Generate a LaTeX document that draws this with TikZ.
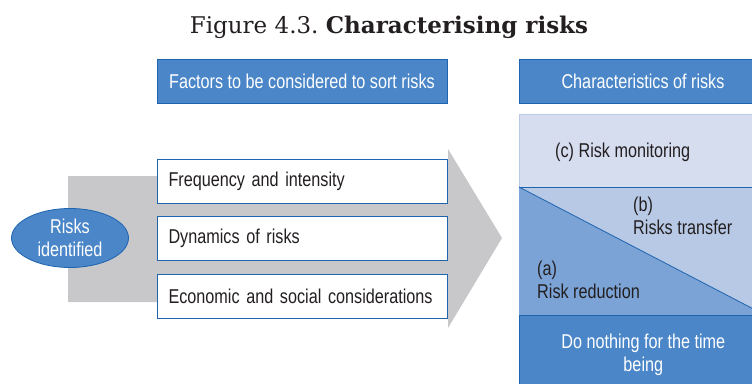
\documentclass[tikz,border=0pt]{standalone}
\usepackage{fontspec}
\setmainfont{Liberation Sans}[FakeStretch=0.81]
\newfontfamily\titlefont{DejaVu Serif}
\usetikzlibrary{shapes.geometric}

\definecolor{hdrblue}{RGB}{74,134,200}
\definecolor{edgeblue}{RGB}{30,100,175}
\definecolor{arrowgray}{RGB}{200,200,202}
\definecolor{monfill}{RGB}{213,221,239}
\definecolor{transfill}{RGB}{184,201,230}
\definecolor{redfill}{RGB}{123,163,213}
\definecolor{textgray}{RGB}{35,31,32}

\tikzset{
  hdrbox/.style={draw=edgeblue, line width=0.8pt, fill=hdrblue, text=white, minimum height=44, inner sep=0pt},
  factorbox/.style={draw=edgeblue, line width=0.8pt, fill=white, text=textgray, minimum width=290, minimum height=44, text width=268, inner sep=0pt, align=left},
  colbox/.style={draw=edgeblue, line width=0.6pt, minimum width=248, inner sep=0pt, anchor=north west},
  lbl/.style={text=textgray, anchor=west, inner sep=0pt, align=left}
}

\begin{document}
\begin{tikzpicture}[x=1pt, y=-1pt, font=\fontsize{20}{23}\selectfont]
  \useasboundingbox (0,0) rectangle (752,383);
  \node[text=textgray] (title) at (389,27) {\titlefont\fontsize{23}{28}\selectfont Figure 4.3.\ \bfseries Characterising risks};
  % headers
  \node[hdrbox, minimum width=290] (factors) at (302,81) {Factors to be considered to sort risks};
  \node[hdrbox, minimum width=248] (traits) at (643,81) {Characteristics of risks};
  % big gray arrow
  \fill[arrowgray] (68,176) -- (448,176) -- (448,149) -- (502,238) -- (448,328) -- (448,302) -- (68,302) -- cycle;
  \def \Factors{ 1/181/Frequency and intensity, 2/238.5/Dynamics of risks, 3/296.5/Economic and social considerations}
  \foreach \id / \y / \t in \Factors{
    \node[factorbox] (f\id) at (302.5,\y) {\t};
  }
  \node[draw=edgeblue, line width=0.8pt, fill=hdrblue, ellipse, minimum width=117, minimum height=59, inner sep=0pt, text=white, align=center, font=\fontsize{20}{23}\selectfont] (risks) at (70,238) {Risks\\identified};
  % right column
  \node[colbox, draw=transfill, fill=monfill, minimum height=73] (monitor) at (519,114) {};
  \node[colbox, fill=transfill, minimum height=128] (middle) at (519,187) {};
  \fill[redfill] (middle.north west) -- (765,315) -- (middle.south west) -- cycle;
  \draw[edgeblue, line width=0.8pt] (middle.north west) -- (765,315);
  \draw[edgeblue, line width=0.8pt] (middle.north west) -- (middle.north east);
  \node[colbox, fill=hdrblue, minimum height=80, text=white, align=center] (nothing) at (519,315) {Do nothing for the time\\being};
  \node[lbl] (c) at (555,152) {(c) Risk monitoring};
  \node[lbl] (b) at (633,216) {(b)\\Risks transfer};
  \node[lbl] (a) at (537,280) {(a)\\Risk reduction};
\end{tikzpicture}
\end{document}
